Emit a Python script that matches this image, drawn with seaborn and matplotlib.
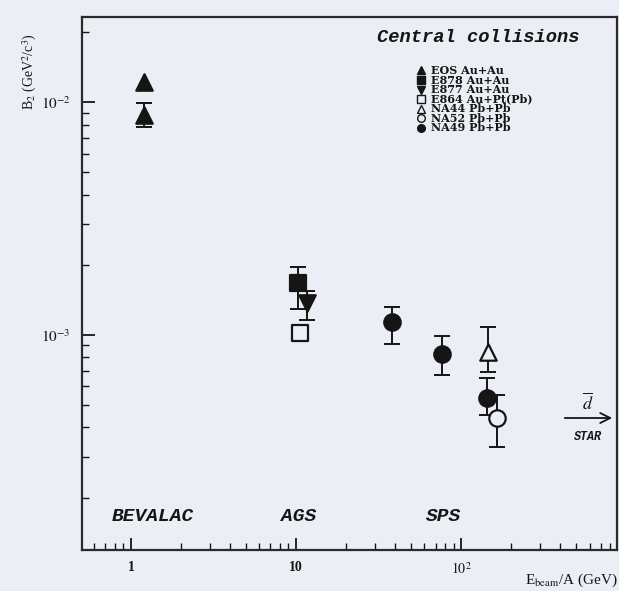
import matplotlib
matplotlib.use("Agg")
import matplotlib.pyplot as plt
from matplotlib.lines import Line2D
import numpy as np
import pandas as pd
import seaborn as sns

# Experiments, in legend order, with their marker and fill
experiments = ["EOS Au+Au", "E878 Au+Au", "E877 Au+Au", "E864 Au+Pt(Pb)",
               "NA44 Pb+Pb", "NA52 Pb+Pb", "NA49 Pb+Pb"]
markers = ["^", "s", "v", "s", "^", "o", "o"]
filled = [True, True, True, False, False, False, True]

# Measured coalescence parameter B2 per point (NaN bounds: no error bar drawn)
point_exp = ["EOS Au+Au", "EOS Au+Au", "E878 Au+Au", "E877 Au+Au", "E864 Au+Pt(Pb)",
             "NA44 Pb+Pb", "NA52 Pb+Pb", "NA49 Pb+Pb", "NA49 Pb+Pb", "NA49 Pb+Pb"]
e_beam = [1.2, 1.2, 10.3, 11.7, 10.6, 146, 165, 38, 77, 144]
b2 = [1.22e-2, 8.8e-3, 1.67e-3, 1.37e-3, 1.02e-3, 8.45e-4, 4.4e-4, 1.13e-3, 8.3e-4, 5.37e-4]
b2_low = [np.nan, 7.8e-3, 1.29e-3, 1.16e-3, np.nan, 6.93e-4, 3.3e-4, 9.1e-4, 6.7e-4, 4.54e-4]
b2_high = [np.nan, 9.9e-3, 1.96e-3, 1.54e-3, np.nan, 1.08e-3, 5.52e-4, 1.32e-3, 9.9e-4, 6.54e-4]

x_ticks = [1, 10, 100]
x_tick_labels = ["1", "10", "$10^2$"]
y_ticks = [1e-3, 1e-2]
y_tick_labels = ["$10^{-3}$", "$10^{-2}$"]
regions = ["BEVALAC", "AGS", "SPS"]
region_x = [1.36, 10.3, 78]

df = pd.DataFrame({"exp": point_exp, "e": e_beam, "b2": b2,
                   "lo": b2_low, "hi": b2_high})

bg = "#eceef5"
ink = "#151515"
sns.set_style("white")
plt.rcParams["font.family"] = ["Liberation Serif", "DejaVu Serif"]
plt.rcParams["mathtext.fontset"] = "stix"

fig = plt.figure(figsize=(6.19, 5.91), dpi=100, facecolor=bg)
ax = fig.add_axes([82 / 619, 41 / 591, 535 / 619, 533 / 591])
ax.set_facecolor(bg)
ax.set_xscale("log")
ax.set_yscale("log")

# error bars
eb = df.dropna()
err = np.vstack([eb["b2"] - eb["lo"], eb["hi"] - eb["b2"]])
ax.errorbar(eb["e"], eb["b2"], yerr=err, fmt="none", ecolor=ink,
            elinewidth=1.4, capsize=6, capthick=1.4, zorder=2)

# markers per experiment
for name, mk, fl in zip(experiments, markers, filled):
    sub = df[df["exp"] == name]
    sns.scatterplot(data=sub, x="e", y="b2", marker=mk, s=140,
                    facecolor=ink if fl else bg, edgecolor=ink,
                    linewidth=1.6, ax=ax, zorder=3, legend=False)

ax.set_xlim(0.505, 880)
ax.set_ylim(1.19e-4, 2.32e-2)
ax.set_xticks(x_ticks, x_tick_labels)
ax.set_yticks(y_ticks, y_tick_labels)
ax.set_xlabel("")
ax.set_ylabel("")
ax.tick_params(which="major", direction="in", length=9, width=1.3, colors=ink,
               labelsize=11, pad=8, top=False, right=False, bottom=True, left=True)
ax.tick_params(which="minor", direction="in", length=5, width=1.0, colors=ink,
               top=False, right=False, bottom=True, left=True)
ax.tick_params(axis="x", labelsize=10)
for lbl in ax.get_xticklabels():
    lbl.set_fontweight("bold")
for sp in ax.spines.values():
    sp.set_color("#2a2a2a")
    sp.set_linewidth(1.6)

# accelerator labels
for r, xr in zip(regions, region_x):
    ax.text(xr, 1.66e-4, r, ha="center", va="center", fontsize=14,
            family="Liberation Mono", weight="bold", style="italic", color=ink)

# title box text
fig.text(478 / 619, 1 - 38 / 591, "Central collisions", ha="center", va="center",
         fontsize=13.5, family="Liberation Mono", weight="bold", style="italic",
         color=ink)

# legend
leg_y = [70, 80, 89.5, 99, 108.5, 118, 127.5]
for name, mk, fl, yp in zip(experiments, markers, filled, leg_y):
    yf = 1 - yp / 591
    fig.add_artist(Line2D([421 / 619], [yf], marker=mk, markersize=5.5,
                          markerfacecolor=ink if fl else bg,
                          markeredgecolor=ink, markeredgewidth=1.0,
                          linestyle="none", transform=fig.transFigure))
    fig.text(431 / 619, yf, name, ha="left", va="center", fontsize=8,
             family="DejaVu Serif", weight="bold", color=ink)

# anti-deuteron arrow towards STAR energies
ax.annotate("", xy=(615 / 619, 1 - 418 / 591), xytext=(562 / 619, 1 - 418 / 591),
            xycoords="figure fraction", textcoords="figure fraction",
            arrowprops=dict(arrowstyle="->", color=ink, lw=1.3,
                            mutation_scale=18))
fig.text(588 / 619, 1 - 403 / 591, r"$\overline{d}$", ha="center", va="center",
         fontsize=13, color=ink)
fig.text(588 / 619, 1 - 437 / 591, "STAR", ha="center", va="center",
         fontsize=8.5, family="Liberation Mono", weight="bold", style="italic",
         color=ink)

# axis titles
fig.text(30 / 619, 1 - 72 / 591, r"B$_2$ (GeV$^2$/c$^3$)", rotation=90,
         ha="center", va="center", fontsize=10, color=ink)
fig.text(618 / 619, 1 - 580 / 591, r"E$_{\rm beam}$/A (GeV)", ha="right",
         va="center", fontsize=11, color=ink)

fig.savefig("out.png", dpi=100, facecolor=bg)
